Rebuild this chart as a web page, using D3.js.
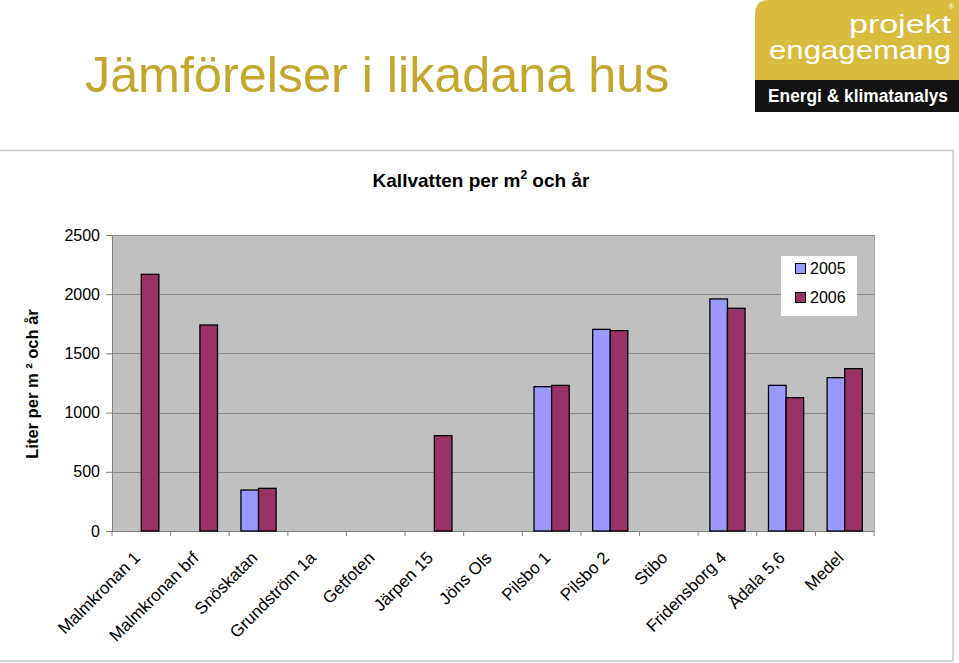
<!DOCTYPE html>
<html>
<head>
<meta charset="utf-8">
<script src="https://cdn.jsdelivr.net/npm/d3@7"></script>
<style>
  html, body { margin: 0; padding: 0; background: #fff; }
  svg { display: block; font-family: "Liberation Sans", Arial, sans-serif; }
</style>
</head>
<body>
<svg id="chart" width="959" height="663"></svg>
<script>
const categories = ["Malmkronan 1", "Malmkronan brf", "Snöskatan", "Grundström 1a", "Getfoten", "Järpen 15", "Jöns Ols", "Pilsbo 1", "Pilsbo 2", "Stibo", "Fridensborg 4", "Ådala 5,6", "Medel"];
const seriesNames = ["2005", "2006"];
const values2005 = [null, null, 346, null, null, null, null, 1219, 1703, null, 1960, 1230, 1295];
const values2006 = [2168, 1740, 360, null, null, 805, null, 1230, 1692, null, 1881, 1126, 1371];
const yTicks = [0, 500, 1000, 1500, 2000, 2500];
const seriesColors = ["#9999ff", "#993366"];

const svg = d3.select("#chart");

// Page title
svg.append("text")
  .attr("x", 85).attr("y", 92)
  .attr("font-size", 50.3)
  .attr("fill", "#c4a62c")
  .text("Jämförelser i likadana hus");

// Logo
const logo = svg.append("g");
logo.append("path")
  .attr("d", "M755,112 L755,14 Q755,0 769,0 L959,0 L959,112 Z")
  .attr("fill", "#d9bb3e");
logo.append("rect").attr("x", 755).attr("y", 80).attr("width", 204).attr("height", 32).attr("fill", "#111");
logo.append("text").attr("x", 951).attr("y", 33).attr("text-anchor", "end")
  .attr("font-size", 25).attr("fill", "#fff").attr("textLength", 102).attr("lengthAdjust", "spacingAndGlyphs").text("projekt");
logo.append("text").attr("x", 951).attr("y", 59).attr("text-anchor", "end")
  .attr("font-size", 25).attr("fill", "#fff").attr("textLength", 182).attr("lengthAdjust", "spacingAndGlyphs").text("engagemang");
logo.append("text").attr("x", 954).attr("y", 9).attr("text-anchor", "end")
  .attr("font-size", 7).attr("fill", "#fff").text("®");
logo.append("text").attr("x", 768).attr("y", 102)
  .attr("font-size", 18).attr("font-weight", "bold").attr("fill", "#fff")
  .attr("textLength", 180).attr("lengthAdjust", "spacingAndGlyphs").text("Energi & klimatanalys");

// Chart frame
svg.append("rect").attr("x", -1).attr("y", 150.5).attr("width", 954).attr("height", 510.5)
  .attr("fill", "#fff").attr("stroke", "#c8c8c8").attr("stroke-width", 1.5);

// Chart title
const ct = svg.append("text").attr("x", 481).attr("y", 187).attr("text-anchor", "middle")
  .attr("font-size", 19).attr("font-weight", "bold").attr("fill", "#000");
ct.append("tspan").text("Kallvatten per m");
ct.append("tspan").attr("font-size", 12).attr("dy", -8).text("2");
ct.append("tspan").attr("dy", 8).text(" och år");

// Scales
const plot = { left: 112, right: 874, top: 235, bottom: 531 };
const x = d3.scaleBand().domain(categories).range([plot.left, plot.right]).paddingInner(0).paddingOuter(0);
const xs = d3.scaleBand().domain(seriesNames).range([0, x.bandwidth()]).paddingInner(0).paddingOuter(0.667);
const y = d3.scaleLinear().domain([0, 2500]).range([plot.bottom, plot.top]);

// Plot background
svg.append("rect").attr("x", plot.left).attr("y", plot.top)
  .attr("width", plot.right - plot.left).attr("height", plot.bottom - plot.top)
  .attr("fill", "#c0c0c0");

// Gridlines
svg.append("g").selectAll("line").data(yTicks.filter(d => d > 0)).join("line")
  .attr("x1", plot.left).attr("x2", plot.right)
  .attr("y1", d => Math.round(y(d)) + 0.5).attr("y2", d => Math.round(y(d)) + 0.5)
  .attr("stroke", "#8a8a8a").attr("stroke-width", 1);

// Plot border right
svg.append("line").attr("x1", plot.right + 0.5).attr("x2", plot.right + 0.5)
  .attr("y1", plot.top).attr("y2", plot.bottom).attr("stroke", "#a0a0a0");

// Y axis
const yAxis = svg.append("g").attr("transform", `translate(${plot.left},0)`)
  .call(d3.axisLeft(y).tickValues(yTicks).tickSize(6).tickPadding(6).tickFormat(d3.format("d")));
yAxis.select(".domain").attr("stroke", "#808080");
yAxis.selectAll(".tick line").attr("stroke", "#808080");
yAxis.selectAll("text").attr("font-size", 16).attr("fill", "#000")
  .attr("font-family", "Liberation Sans, Arial, sans-serif");

// X axis (ticks at category boundaries)
const xAxisG = svg.append("g").attr("transform", `translate(0,${plot.bottom})`);
xAxisG.append("line").attr("x1", plot.left).attr("x2", plot.right).attr("y1", 0.5).attr("y2", 0.5).attr("stroke", "#808080");
xAxisG.selectAll("line.tk").data(categories.concat(["__end"])).join("line").attr("class", "tk")
  .attr("x1", (d, i) => plot.left + i * x.step()).attr("x2", (d, i) => plot.left + i * x.step())
  .attr("y1", 0).attr("y2", 5).attr("stroke", "#808080");

// Bars
const series = [values2005, values2006];
const barG = svg.append("g");
series.forEach((vals, si) => {
  const data = categories.map((c, i) => ({ c, v: vals[i] })).filter(d => d.v != null);
  barG.append("g").selectAll("rect").data(data).join("rect")
    .attr("x", d => x(d.c) + xs(seriesNames[si]))
    .attr("y", d => y(d.v))
    .attr("width", xs.bandwidth())
    .attr("height", d => y(0) - y(d.v))
    .attr("fill", seriesColors[si])
    .attr("stroke", "#000").attr("stroke-width", 1.3);
});

// X labels
svg.append("g").selectAll("text").data(categories).join("text")
  .attr("transform", d => `translate(${x(d) + x.bandwidth() / 2 - 4},${plot.bottom + 24}) rotate(-45)`)
  .attr("text-anchor", "end").attr("dominant-baseline", "central")
  .attr("font-size", 17).attr("fill", "#000")
  .text(d => d);

// Y axis title
svg.append("text")
  .attr("transform", "translate(38,384) rotate(-90)")
  .attr("text-anchor", "middle").attr("font-size", 16.5).attr("font-weight", "bold")
  .text("Liter per m ² och år");

// Legend
const lg = svg.append("g");
lg.append("rect").attr("x", 781).attr("y", 256).attr("width", 76).attr("height", 60).attr("fill", "#fff");
seriesNames.forEach((s, i) => {
  lg.append("rect").attr("x", 795.5).attr("y", 263.5 + i * 29).attr("width", 10).attr("height", 10)
    .attr("fill", seriesColors[i]).attr("stroke", "#000").attr("stroke-width", 1);
  lg.append("text").attr("x", 810).attr("y", 274 + i * 29).attr("font-size", 16).text(s);
});
</script>
</body>
</html>
